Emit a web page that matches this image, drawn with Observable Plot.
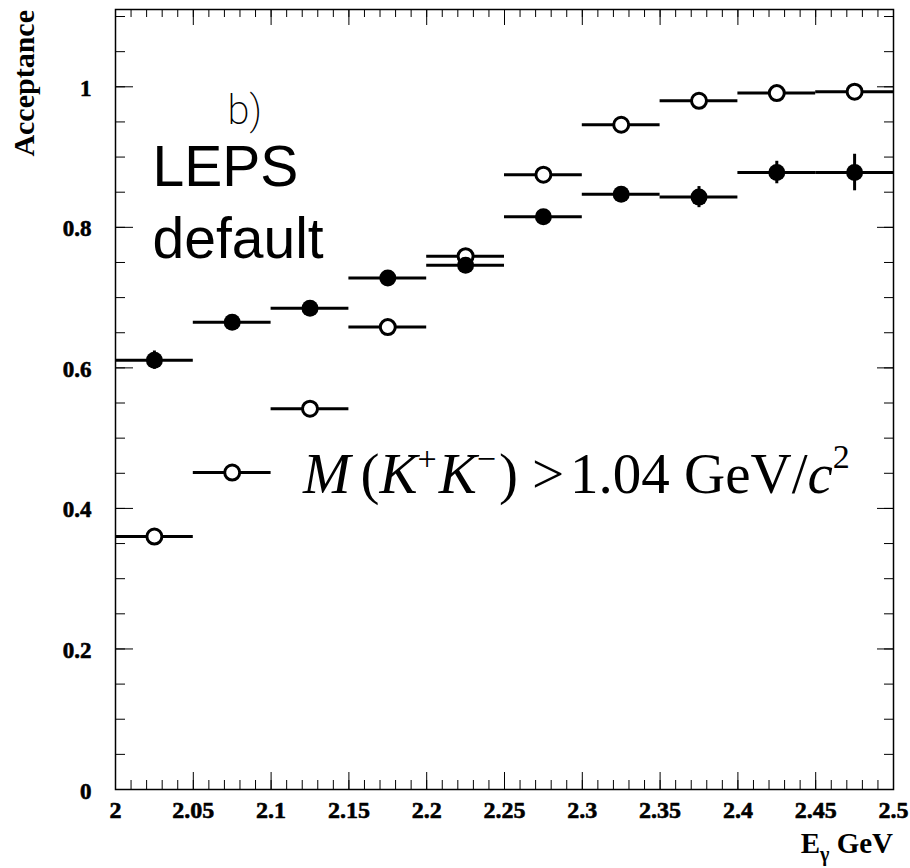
<!DOCTYPE html>
<html><head><meta charset="utf-8">
<script src="https://cdn.jsdelivr.net/npm/d3@7"></script>
<script src="https://cdn.jsdelivr.net/npm/@observablehq/plot@0.6"></script>
<style>body{margin:0;background:#fff} #chart{width:910px;height:868px}</style>
</head><body><div id="chart"></div>
<script>
// ---- data ----
const binCenters   = [2.025, 2.075, 2.125, 2.175, 2.225, 2.275, 2.325, 2.375, 2.425, 2.475];
const binHalfWidth = 0.025;
const filledValues = [0.611, 0.665, 0.685, 0.728, 0.746, 0.815, 0.847, 0.843, 0.878, 0.878];
const filledErrors = [0.013, 0.010, 0.010, 0.009, 0.010, 0.010, 0.011, 0.015, 0.016, 0.026];
const openValues   = [0.360, 0.451, 0.542, 0.658, 0.759, 0.875, 0.946, 0.980, 0.991, 0.993];
const openErrors   = [0.006, 0.006, 0.006, 0.005, 0.005, 0.005, 0.004, 0.004, 0.004, 0.004];
const xMajorTicks  = [2, 2.05, 2.1, 2.15, 2.2, 2.25, 2.3, 2.35, 2.4, 2.45, 2.5];
const xTickLabels  = ["2", "2.05", "2.1", "2.15", "2.2", "2.25", "2.3", "2.35", "2.4", "2.45", "2.5"];
const yMajorTicks  = [0, 0.2, 0.4, 0.6, 0.8, 1];
const yTickLabels  = ["0", "0.2", "0.4", "0.6", "0.8", "1"];
const xMinorTicks  = d3.range(0, 51).map(i => +(2 + i * 0.01).toFixed(2));
const yMinorTicks  = d3.range(0, 23).map(i => +(i * 0.05).toFixed(2));

const filled = binCenters.map((c, i) => ({c, v: filledValues[i], e: filledErrors[i]}));
const open   = binCenters.map((c, i) => ({c, v: openValues[i],   e: openErrors[i]}));
const xTicks = xMajorTicks.map((t, i) => ({t, label: xTickLabels[i]}));
const yTicks = yMajorTicks.map((t, i) => ({t, label: yTickLabels[i]}));

// ---- layout ----
const W = 910, H = 868;
const mL = 115, mR = 17, mT = 9, mB = 79;
const fw = W - mL - mR, fh = H - mT - mB;
const serif = "'Liberation Serif', 'Times New Roman', serif";

const series = (data, filledStyle) => [
  Plot.ruleY(data, {y: "v", x1: d => d.c - binHalfWidth, x2: d => d.c + binHalfWidth, stroke: "black", strokeWidth: 3}),
  Plot.ruleX(data, {x: "c", y1: d => d.v - d.e, y2: d => d.v + d.e, stroke: "black", strokeWidth: 3}),
  filledStyle
    ? Plot.dot(data, {x: "c", y: "v", r: 8.5, fill: "black", stroke: "none"})
    : Plot.dot(data, {x: "c", y: "v", r: 7.5, fill: "white", stroke: "black", strokeWidth: 3})
];

const plot = Plot.plot({
  width: W, height: H,
  marginLeft: mL, marginRight: mR, marginTop: mT, marginBottom: mB,
  x: {domain: [2, 2.5], axis: null},
  y: {domain: [0, 1.11], axis: null},
  style: {background: "white"},
  marks: [
    // tick marks (inward, on all four sides)
    Plot.tickX(xMinorTicks, {x: d => d, insetTop: fh - 9, stroke: "black", strokeWidth: 1}),
    Plot.tickX(xMajorTicks, {x: d => d, insetTop: fh - 17, stroke: "black", strokeWidth: 1}),
    Plot.tickX(xMinorTicks, {x: d => d, insetBottom: fh - 8, stroke: "black", strokeWidth: 1}),
    Plot.tickX(xMajorTicks, {x: d => d, insetBottom: fh - 16, stroke: "black", strokeWidth: 1}),
    Plot.tickY(yMinorTicks, {y: d => d, insetRight: fw - 10, stroke: "black", strokeWidth: 1}),
    Plot.tickY(yMajorTicks, {y: d => d, insetRight: fw - 18, stroke: "black", strokeWidth: 1}),
    Plot.tickY(yMinorTicks, {y: d => d, insetLeft: fw - 9, stroke: "black", strokeWidth: 1}),
    Plot.tickY(yMajorTicks, {y: d => d, insetLeft: fw - 16, stroke: "black", strokeWidth: 1}),
    Plot.frame({stroke: "black", strokeWidth: 1.5}),
    // tick labels
    Plot.text(xTicks, {x: "t", text: "label", frameAnchor: "bottom", dy: 28, lineAnchor: "bottom",
      fontSize: 24, fontWeight: "bold", fontFamily: serif, fill: "black", stroke: "black", strokeWidth: 0.6}),
    Plot.text(yTicks, {y: "t", text: "label", frameAnchor: "left", dx: -24, dy: 9, textAnchor: "end", lineAnchor: "bottom",
      fontSize: 23, fontWeight: "bold", fontFamily: serif, fill: "black", stroke: "black", strokeWidth: 0.6}),
    // data
    ...series(open, false),
    ...series(filled, true),
    // annotations
    Plot.text(["b)"], {frameAnchor: "top-left", dx: 227 - mL, dy: 123 - mT, textAnchor: "start", lineAnchor: "bottom",
      fontSize: 40, fontFamily: "Roboto, 'DejaVu Sans', sans-serif", fontWeight: 200, fill: "black"}),
    Plot.text(["LEPS"], {frameAnchor: "top-left", dx: 152 - mL, dy: 185 - mT, textAnchor: "start", lineAnchor: "bottom",
      fontSize: 57, fontFamily: "'Liberation Sans', Arial, sans-serif", fill: "black"}),
    Plot.text(["default"], {frameAnchor: "top-left", dx: 152 - mL, dy: 257 - mT, textAnchor: "start", lineAnchor: "bottom",
      fontSize: 57, fontFamily: "'Liberation Sans', Arial, sans-serif", fill: "black"})
  ]
});
document.getElementById("chart").appendChild(plot);

// ---- axis titles and formula (rich text) ----
const svg = d3.select(plot);
svg.append("text")
  .attr("transform", `translate(34, ${mT + 1}) rotate(-90)`)
  .attr("text-anchor", "end")
  .attr("font-family", serif).attr("font-weight", "bold").attr("font-size", 30)
  .attr("fill", "black")
  .text("Acceptance");

const xl = svg.append("text")
  .attr("x", W - mR).attr("y", 853)
  .attr("text-anchor", "end")
  .attr("font-family", serif).attr("font-weight", "bold").attr("font-size", 29)
  .attr("fill", "black");
xl.append("tspan").text("E");
xl.append("tspan").attr("dy", 8).attr("font-size", 20).text("γ");
xl.append("tspan").attr("dy", -8).text(" GeV");

const f = svg.append("text")
  .attr("x", 303).attr("y", 493)
  .attr("text-anchor", "start")
  .attr("font-family", serif).attr("font-size", 57).attr("fill", "black");
f.append("tspan").attr("font-style", "italic").text("M");
f.append("tspan").attr("dx", 10).text("(");
f.append("tspan").attr("font-style", "italic").text("K");
f.append("tspan").attr("dy", -23).attr("font-size", 34).text("+");
f.append("tspan").attr("dy", 23).attr("dx", 2).attr("font-style", "italic").text("K");
f.append("tspan").attr("dy", -23).attr("font-size", 34).text("−");
f.append("tspan").attr("dy", 23).attr("dx", 3).text(")");
f.append("tspan").attr("dx", 14).text(">");
f.append("tspan").attr("dx", 6).text("1.04 GeV/");
f.append("tspan").attr("font-style", "italic").text("c");
f.append("tspan").attr("dy", -25).attr("font-size", 34).text("2");
</script>
</body></html>
